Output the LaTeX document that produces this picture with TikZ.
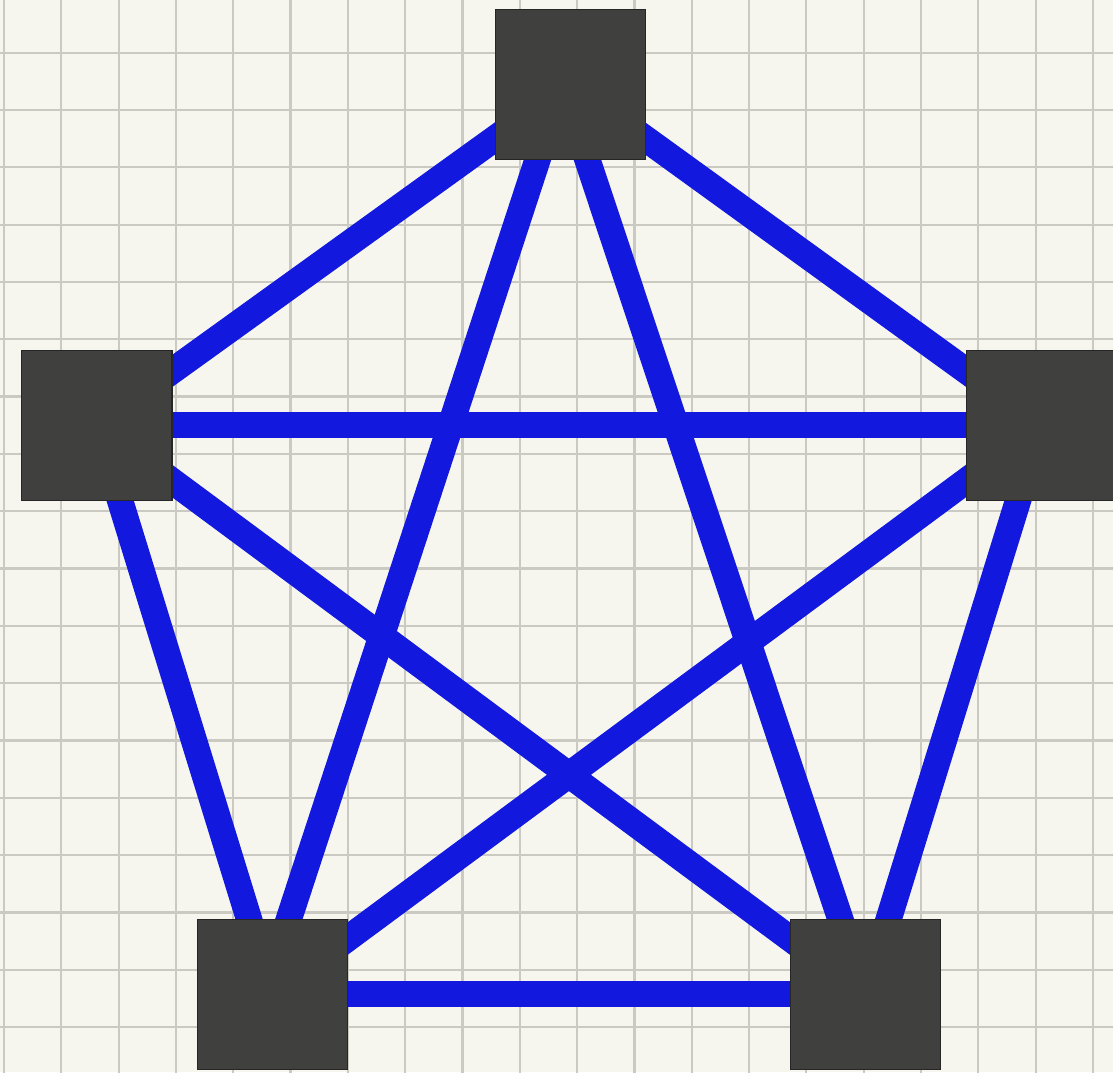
\documentclass[tikz,border=0pt]{standalone}
\usetikzlibrary{backgrounds}
\definecolor{paperWhite}{RGB}{246,246,239}
\definecolor{gridGray}{RGB}{202,202,194}
\definecolor{vertexGray}{RGB}{64,64,62}
\definecolor{edgeBlue}{RGB}{18,24,222}

\begin{document}
\begin{tikzpicture}[
        vertex/.style={draw=black!85, fill=vertexGray, rectangle, minimum size=2.62cm, inner sep=0pt, line width=0.6pt}, % square vertex
        link/.style={edgeBlue, line width=13pt}, % blue connector
        gridline/.style={gridGray, line width=1.1pt}
    ]
    \useasboundingbox (0,0) rectangle (19.42,18.71);

    \node[vertex] (top) at (9.95,17.24) {};
    \node[vertex] (left) at (1.69,11.29) {};
    \node[vertex] (right) at (18.17,11.29) {};
    \node[vertex] (botleft) at (4.75,1.36) {};
    \node[vertex] (botright) at (15.10,1.36) {};

    \begin{scope}[on background layer]
        % paper with grid
        \fill[paperWhite] (0,0) rectangle (19.42,18.71);
        \begin{scope}
            \clip (0,0) rectangle (19.42,18.71);
            \draw[gridline, shift={(0.07,0.79)}] (-1,-1) grid (20,18);
        \end{scope}

        \draw[link] (top.center) -- (left.center);
        \draw[link] (top.center) -- (right.center);
        \draw[link] ([xshift=-0.14cm]top.center) -- ([xshift=-0.14cm]botleft.center);
        \draw[link] ([xshift=-0.14cm]top.center) -- (botright.center);
        \draw[link] (left.center) -- (right.center);
        \draw[link] (left.center) -- (botleft.center);
        \draw[link] (left.center) -- (botright.center);
        \draw[link] (right.center) -- (botleft.center);
        \draw[link] (right.center) -- (botright.center);
        \draw[link] (botleft.center) -- (botright.center);
    \end{scope}
\end{tikzpicture}
\end{document}
